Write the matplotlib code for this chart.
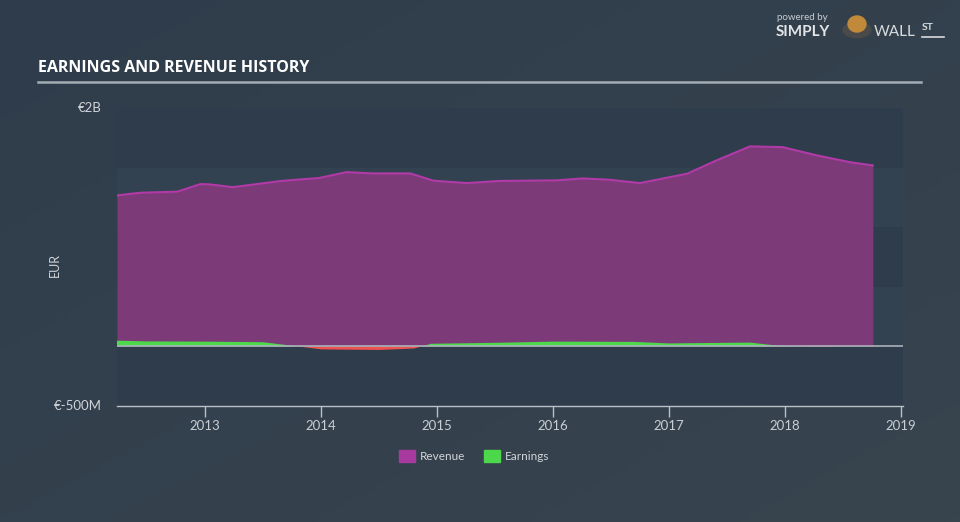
import matplotlib
matplotlib.use("Agg")
import matplotlib.pyplot as plt
from matplotlib.colors import LinearSegmentedColormap
import numpy as np

# fractional years
rev_dates = [2012.24, 2012.44, 2012.76, 2012.96, 2013.04, 2013.24, 2013.65, 2013.82,
             2013.98, 2014.22, 2014.45, 2014.77, 2014.97, 2015.26, 2015.54, 2016.03,
             2016.26, 2016.49, 2016.75, 2017.16, 2017.41, 2017.70, 2017.98, 2018.28,
             2018.56, 2018.76]
revenue = [1.267, 1.289, 1.298, 1.362, 1.359, 1.336, 1.387, 1.401,
           1.412, 1.462, 1.451, 1.451, 1.390, 1.370, 1.388, 1.393,
           1.409, 1.398, 1.370, 1.449, 1.560, 1.678, 1.672, 1.602,
           1.546, 1.518]  # EUR billions

earn_dates = [2012.24, 2012.5, 2013.0, 2013.5, 2013.8, 2014.0, 2014.5, 2014.8,
              2014.95, 2015.5, 2016.0, 2016.7, 2017.0, 2017.7, 2017.95, 2018.3,
              2018.76]
earnings = [0.048, 0.042, 0.040, 0.035, 0.000, -0.025, -0.030, -0.018,
            0.022, 0.030, 0.040, 0.038, 0.025, 0.032, 0.005, -0.004,
            0.006]  # EUR billions

year_ticks = [2013, 2014, 2015, 2016, 2017, 2018, 2019]

W, H = 960, 522
fig = plt.figure(figsize=(W / 100, H / 100), dpi=100)
fig.patch.set_facecolor("#333f4d")

# soft background gradient
bg = fig.add_axes([0, 0, 1, 1], zorder=-10)
GX, GY = np.meshgrid(np.linspace(0, 1, 200), np.linspace(0, 1, 120))
cmap = LinearSegmentedColormap.from_list("bg", ["#2f3c4b", "#38454f"])
bg.imshow(0.5 * GX + 0.5 * GY, cmap=cmap, aspect="auto", extent=[0, 1, 0, 1],
          origin="upper")
bg.axis("off")


def px(x0, y0, x1, y1):
    return [x0 / W, 1 - y1 / H, (x1 - x0) / W, (y1 - y0) / H]


ax = fig.add_axes(px(117, 108, 903, 406))
ax.set_xlim(2012.24, 2019.02)
ax.set_ylim(-0.5, 2.0)
ax.set_facecolor("none")

# alternating horizontal bands
band_cols = ["#2e3c4b", "#334250"]
edges = [2.0, 1.5, 1.0, 0.5, 0.0, -0.5]
for i in range(5):
    ax.axhspan(edges[i + 1], edges[i], color=band_cols[i % 2], lw=0, zorder=0)

ax.fill_between(rev_dates, 0, revenue, color="#7c3b78", lw=0, zorder=2)
ax.plot(rev_dates, revenue, color="#b13aa8", lw=1.5, zorder=3)

e = np.array(earnings)
ax.fill_between(earn_dates, 0, e, where=e >= 0, interpolate=True,
                color="#4cd84a", lw=0, zorder=4)
ax.fill_between(earn_dates, 0, e, where=e <= 0, interpolate=True,
                color="#ec5250", lw=0, zorder=4)

ax.axhline(0, color="#aab2ba", lw=1.2, zorder=5)

for s in ["top", "right", "left"]:
    ax.spines[s].set_visible(False)
ax.spines["bottom"].set_color("#b8c0c8")
ax.spines["bottom"].set_linewidth(1.0)
ax.set_yticks([])
ax.set_xticks(year_ticks)
ax.set_xticklabels([str(y) for y in year_ticks])
ax.tick_params(axis="x", colors="#b8c0c8", length=8, width=1.0,
               labelsize=9.5, labelcolor="#c8ced4", pad=2)
for lab in ax.get_xticklabels():
    lab.set_family("Lato")

txt = "#d0d4d8"
fig.text(102 / W, 1 - 108 / H, "€2B", ha="right", va="center", color=txt,
         fontsize=9.5, family="Lato")
fig.text(102 / W, 1 - 406 / H, "€-500M", ha="right", va="center", color=txt,
         fontsize=9.5, family="Lato")
fig.text(55 / W, 1 - 265 / H, "EUR", ha="center", va="center", color=txt,
         fontsize=9, family="Lato", rotation=90)

# title and underline
fig.text(38 / W, 1 - 68 / H, "EARNINGS AND REVENUE HISTORY", ha="left", va="center",
         color="white", fontsize=11.5, fontweight="bold", fontstretch="condensed",
         family=["Open Sans"])
fig.add_artist(plt.Line2D([38 / W, 921 / W], [1 - 82 / H, 1 - 82 / H],
                          color="#a4acb4", lw=1.8))

# logo
fig.text(777 / W, 1 - 18 / H, "powered by", ha="left", va="center", color="#c8ccd0",
         fontsize=7, family="Lato")
fig.text(776 / W, 1 - 32 / H, "SIMPLY", ha="left", va="center", color="#e4e6e8",
         fontsize=11, fontweight="bold", family="Lato")
fig.add_artist(matplotlib.patches.Circle((857 / W, 1 - 30 / H), 14 / W,
                                         transform=fig.transFigure, color="#4a4a4a",
                                         zorder=5))
fig.add_artist(matplotlib.patches.Ellipse((857 / W, 1 - 24 / H), 18 / W, 16 / H,
                                          transform=fig.transFigure, color="#c08a3a",
                                          zorder=6))
fig.text(874 / W, 1 - 32 / H, "WALL", ha="left", va="center", color="#d8dadc",
         fontsize=11, family="Lato")
fig.text(922 / W, 1 - 28 / H, "ST", ha="left", va="center", color="#d8dadc",
         fontsize=7.5, fontweight="bold", family="Lato")
fig.add_artist(plt.Line2D([922 / W, 944 / W], [1 - 37 / H, 1 - 37 / H],
                          color="#d8dadc", lw=1.2))

# legend
leg_items = [("Revenue", "#a8399f", 399), ("Earnings", "#4cd84a", 484)]
for label, col, x0 in leg_items:
    fig.add_artist(matplotlib.patches.Rectangle((x0 / W, 1 - 462 / H), 16 / W, 12 / H,
                                                transform=fig.transFigure, color=col))
    fig.text((x0 + 21) / W, 1 - 456 / H, label, ha="left", va="center", color=txt,
             fontsize=8.5, family="Lato")

fig.savefig("out.png", dpi=100, facecolor=fig.get_facecolor())
